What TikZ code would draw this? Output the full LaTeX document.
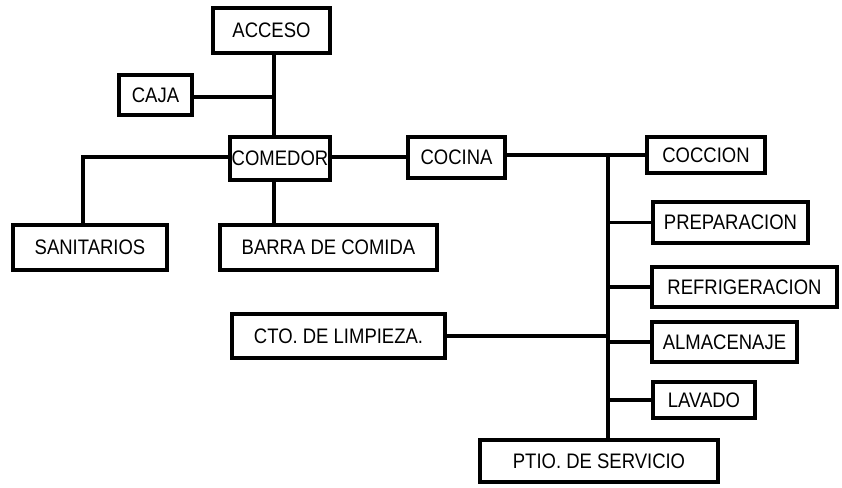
\documentclass[tikz,border=0pt]{standalone}
\usepackage{fontspec}
\setmainfont{Liberation Sans}[FakeStretch=0.88]
\begin{document}
\begin{tikzpicture}[x=0.5pt,y=-0.5pt,
        espacio/.style={draw,line width=1.8pt,inner sep=0pt,font=\fontsize{10.5}{12}\selectfont},
        liga/.style={line width=1.6pt}]
            \useasboundingbox (0,0) rectangle (842,488);
            \node[espacio,minimum width=58.5pt,minimum height=22.5pt] (acceso) at (271.5,30.5) {ACCESO};
            \node[espacio,minimum width=36.5pt,minimum height=20pt] (caja) at (155.5,95) {CAJA};
            \node[espacio,minimum width=50pt,minimum height=21.5pt] (comedor) at (280,158.5) {COMEDOR};
            \node[espacio,minimum width=77pt,minimum height=22.5pt] (sanitarios) at (90,247.5) {SANITARIOS};
            \node[espacio,minimum width=108.5pt,minimum height=22.5pt] (barra) at (328.5,247.5) {BARRA DE COMIDA};
            \node[espacio,minimum width=48.5pt,minimum height=20.5pt] (cocina) at (456.5,157.5) {COCINA};
            \node[espacio,minimum width=59pt,minimum height=18pt] (coccion) at (706,155) {COCCION};
            \node[espacio,minimum width=77.5pt,minimum height=20.5pt] (preparacion) at (730.5,222.5) {PREPARACION};
            \node[espacio,minimum width=92.5pt,minimum height=20pt] (refrigeracion) at (744.5,287) {REFRIGERACION};
            \node[espacio,minimum width=106.5pt,minimum height=22pt] (limpieza) at (338.5,336) {CTO. DE LIMPIEZA.};
            \node[espacio,minimum width=72.5pt,minimum height=20pt] (almacenaje) at (724.5,342) {ALMACENAJE};
            \node[espacio,minimum width=51pt,minimum height=18pt] (lavado) at (704,400) {LAVADO};
            \node[espacio,minimum width=119pt,minimum height=21pt] (patio) at (599,461) {PTIO. DE SERVICIO};
            % comedor side
            \coordinate (eje) at (274,97);
            \coordinate (codo) at (83,157);
            \draw[liga] (acceso.south -| eje) -- (comedor.north -| eje);
            \draw[liga] (caja.east |- eje) -- (eje);
            \draw[liga] (comedor.west |- codo) -- (codo) -- (codo |- sanitarios.north);
            \draw[liga] (comedor.south -| eje) -- (barra.north -| eje);
            \draw[liga] (comedor.east |- codo) -- (cocina.west |- codo);
            % cocina side
            \coordinate (tronco) at (608,155);
            \draw[liga] (cocina.east |- tronco) -- (coccion.west |- tronco);
            \draw[liga] (tronco) -- (tronco |- patio.north);
            \draw[liga] (tronco |- preparacion) -- (preparacion.west);
            \draw[liga] (tronco |- refrigeracion) -- (refrigeracion.west);
            \draw[liga] (limpieza.east) -- (limpieza.east -| tronco);
            \draw[liga] (tronco |- almacenaje) -- (almacenaje.west);
            \draw[liga] (tronco |- lavado) -- (lavado.west);
        \end{tikzpicture}
\end{document}
